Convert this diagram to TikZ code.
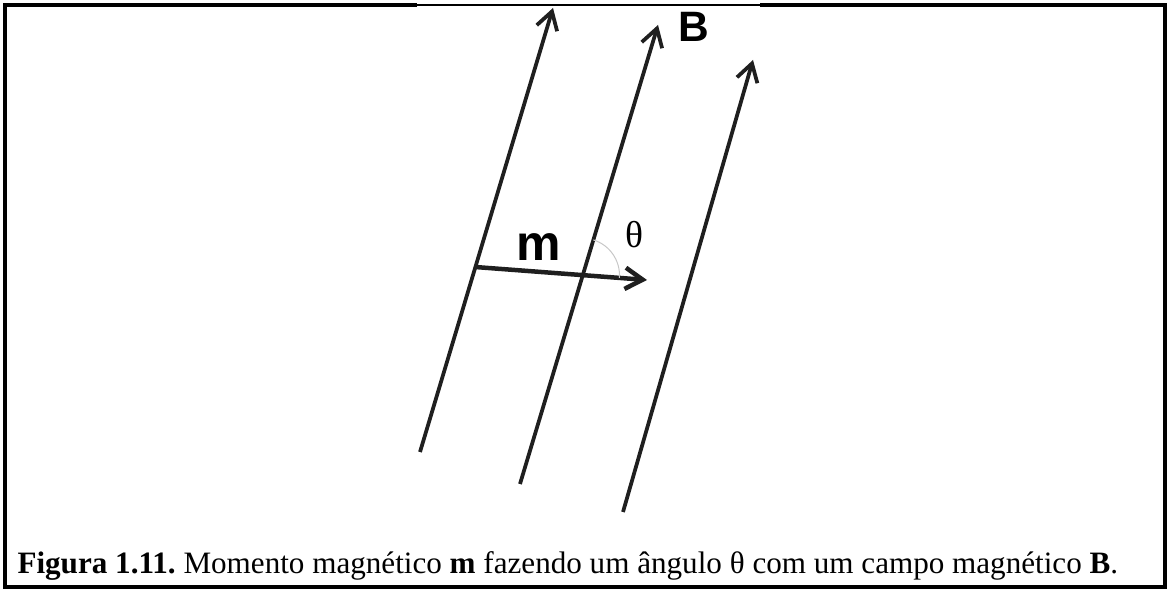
\documentclass[tikz,border=0pt]{standalone}
\usepackage{fontspec}
\setmainfont{Liberation Serif}
\newfontfamily\labelfont{Liberation Sans}
\usetikzlibrary{arrows.meta}
\frenchspacing

\begin{document}
\begin{tikzpicture}[x=0.4pt,y=-0.4pt,
  field/.style={line width=1.5pt,draw=black!88,-{Straight Barb[length=7pt,width=8.5pt]}},
  moment/.style={field,line width=1.8pt},
  anglearc/.style={draw=black!22,line width=0.4pt},
  veclabel/.style={inner sep=0pt,font=\labelfont\bfseries\fontsize{20}{20}\selectfont},
  boxline/.style={line width=1.3pt}]
\useasboundingbox (0,0) rectangle (1168,590);
\draw[boxline] (417,5) -- (5,5) -- (5,587) -- (1165,587) -- (1165,5) -- (760,5);
\draw[line width=0.6pt] (417,5) -- (760,5);
\coordinate (f1s) at (420,452); \coordinate (f1e) at (553,8);
\coordinate (f2s) at (520,484); \coordinate (f2e) at (658,25);
\coordinate (f3s) at (623,512); \coordinate (f3e) at (753,60);
\coordinate (ms) at (475,267); \coordinate (me) at (647,280);
\coordinate (o) at (582.5,275.3);
\draw[field] (f1s) -- (f1e);
\draw[field] (f2s) -- (f2e);
\draw[field] (f3s) -- (f3e);
\draw[moment] (ms) -- (me);
\draw[anglearc] (o) ++(-73:37) arc[start angle=-73,end angle=4,radius=37];
\node[veclabel] (mlab) at (539,247) {m};
\node[veclabel,font=\labelfont\bfseries\fontsize{17}{17}\selectfont] (blab) at (694,27) {B};
\node[inner sep=0pt,font=\fontsize{15}{15}\selectfont] (thlab) at (634,235) {θ};
\node[anchor=base west,inner sep=0pt,font=\fontsize{12.45}{14}\selectfont] (cap) at (17,574)
  {\textbf{Figura 1.11.} Momento magnético \textbf{m} fazendo um ângulo θ com um campo magnético \textbf{B}.};
\end{tikzpicture}
\end{document}
